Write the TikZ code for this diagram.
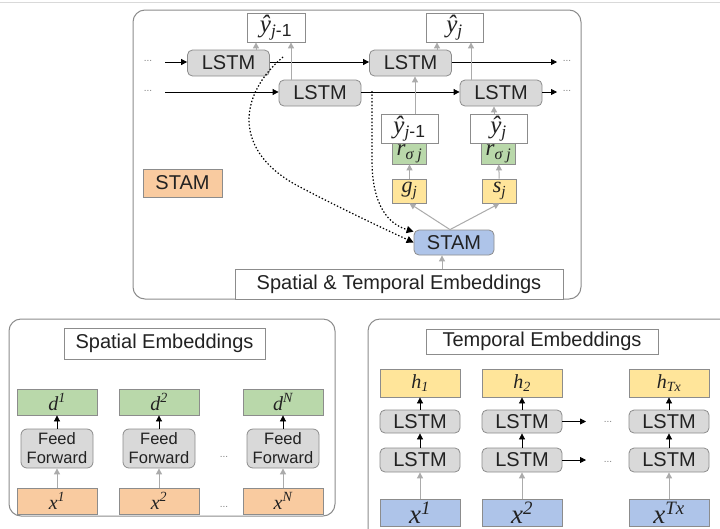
\documentclass[tikz,border=0pt]{standalone}
\usepackage{fontspec}
\setmainfont{Liberation Sans}
\newfontfamily\hand{Liberation Serif}
\newcommand\hv[1]{{\hand\itshape #1}}
\usetikzlibrary{arrows.meta}

\definecolor{lstmgray}{HTML}{D9D9D9}
\definecolor{lineg}{HTML}{8C8C8C}
\definecolor{arrg}{HTML}{ABABAB}
\definecolor{greenf}{HTML}{B9D8AA}
\definecolor{yellowf}{HTML}{FFE59A}
\definecolor{orangef}{HTML}{F9CBA0}
\definecolor{bluef}{HTML}{AEC4E9}
\definecolor{txt}{HTML}{222222}

\begin{document}
\begin{tikzpicture}[x=1pt,y=-1pt,
  base/.style={draw=lineg,line width=0.8pt,inner sep=0pt,text=txt,
    font=\fontsize{20}{22}\selectfont},
  lstm/.style={base,rounded corners=5pt,fill=lstmgray,minimum width=82pt,minimum height=26pt},
  outbox/.style={base,fill=white,minimum width=57pt,minimum height=29pt,font=\fontsize{25}{26}\selectfont},
  rbox/.style={base,fill=greenf,minimum width=34pt,minimum height=21pt,font=\fontsize{23}{24}\selectfont},
  gsbox/.style={base,fill=yellowf,minimum width=34pt,minimum height=24pt,font=\fontsize{22}{23}\selectfont},
  stambox/.style={base,fill=bluef,rounded corners=5pt,minimum width=80pt,minimum height=25pt},
  titlebox/.style={base,fill=white},
  dbox/.style={base,fill=greenf,minimum width=80pt,minimum height=26pt},
  inbox/.style={base,fill=orangef,minimum width=80pt,minimum height=26pt},
  hbox/.style={base,fill=yellowf,minimum width=80pt,minimum height=28pt},
  xbox/.style={base,fill=bluef,minimum width=80pt,minimum height=27pt,font=\fontsize{27}{28}\selectfont},
  ffbox/.style={base,rounded corners=6pt,fill=lstmgray,minimum width=72pt,minimum height=39pt,
    align=center,font=\fontsize{16.5}{19}\selectfont},
  panel/.style={draw=lineg,line width=1pt,rounded corners=12pt},
  dots/.style={inner sep=0pt,text=gray,font=\fontsize{10}{10}\selectfont},
  blk/.style={-{Triangle[length=6pt,width=6pt]},line width=0.8pt,draw=black},
  gar/.style={-{Triangle[length=6pt,width=6pt]},line width=1pt,draw=arrg},
  dott/.style={-{Triangle[length=7pt,width=7pt]},line width=1.2pt,dash pattern=on 1.4pt off 2pt}]
  \useasboundingbox (0,0) rectangle (720,528);
  \fill[white] (0,0) rectangle (720,528);
  \draw[gray!30,line width=0.8pt] (0,2.5) -- (720,2.5);

  %%%%% TOP PANEL %%%%%
  \draw[panel] (133,10) rectangle (581,299);

  \node[outbox,minimum width=58pt] (yt1) at (276,27.5) {\hv{ŷ}\textsubscript{\hv{j}-1}};
  \node[outbox] (yt2) at (454.5,27.5) {\hv{ŷ}\textsubscript{\hv{j}}};

  \node[lstm] (L11) at (228.5,63) {LSTM};
  \node[lstm] (L12) at (410.5,63) {LSTM};
  \node[lstm] (L21) at (320,93) {LSTM};
  \node[lstm] (L22) at (501,93) {LSTM};

  \node[dots] (dl1) at (148,61) {...};
  \node[dots] (dl2) at (148,91) {...};
  \node[dots] (dr1) at (567,61) {...};
  \node[dots] (dr2) at (567,91) {...};
  \coordinate (in1) at (165,62);
  \coordinate (in2) at (165,92);
  \coordinate (out1) at (557,62);
  \coordinate (out2) at (557,92);

  \draw[blk] (in1) -- (L11.west |- in1);
  \draw[blk] (L11.east |- in1) -- (L12.west |- in1);
  \draw[blk] (L12.east |- in1) -- (out1);
  \draw[blk] (in2) -- (L21.west |- in2);
  \draw[blk] (L21.east |- in2) -- (L22.west |- in2);
  \draw[blk] (L22.east |- in2) -- (out2);

  \draw[gar] ([xshift=27.5pt]L11.north) -- ([xshift=27.5pt]L11.north |- yt1.south);
  \draw[gar] ([xshift=-29pt]L21.north) -- ([xshift=-29pt]L21.north |- yt1.south);
  \draw[gar] ([xshift=26.5pt]L12.north) -- ([xshift=26.5pt]L12.north |- yt2.south);
  \draw[gar] ([xshift=-30pt]L22.north) -- ([xshift=-30pt]L22.north |- yt2.south);

  \node[outbox] (yl1) at (409.5,129) {\hv{ŷ}\textsubscript{\hv{j}-1}};
  \node[outbox] (yl2) at (498.5,129) {\hv{ŷ}\textsubscript{\hv{j}}};
  \node[rbox] (r1) at (409.5,153.5) {\hv{r}\textsubscript{\hv{σ j}}};
  \node[rbox] (r2) at (498.5,153.5) {\hv{r}\textsubscript{\hv{σ j}}};
  \node[gsbox] (g) at (409.5,191) {\hv{g}\textsubscript{\hv{j}}};
  \node[gsbox] (s) at (499.5,191) {\hv{s}\textsubscript{\hv{j}}};

  \draw[gar] ([xshift=5.5pt]yl1.north) -- ([xshift=5.5pt]yl1.north |- L12.south);
  \draw[gar] ([xshift=-4.5pt]yl2.north) -- ([xshift=-4.5pt]yl2.north |- L22.south);
  \draw[gar] (g) -- (r1);
  \draw[gar] (s) -- (r2);

  \node[stambox] (stam) at (454,242.5) {STAM};
  \node[titlebox,minimum width=328pt,minimum height=30pt] (ste) at (399,284)
    {Spatial \& Temporal Embeddings};
  \node[base,fill=orangef,minimum width=79pt,minimum height=28pt] (legend) at (182.5,183) {STAM};

  \draw[gar] ([xshift=-4pt]stam.north) -- (g.south);
  \draw[gar] ([xshift=-4pt]stam.north) -- (s.south);
  \draw[gar] ([xshift=-12pt]stam.south |- ste.north) -- ([xshift=-12pt]stam.south);

  \coordinate (dA) at (283,57);
  \coordinate (dB) at (372,91);
  \draw[dott] (dA) .. controls (238,95) and (232,152) .. (300,187)
    .. controls (338,207) and (378,226) .. (stam.west);
  \draw[dott] (dB) -- (372,160) .. controls (372,205) and (388,224) .. ([yshift=-2pt]stam.north west);

  %%%%% SPATIAL EMBEDDINGS %%%%%
  \draw[panel] (9,319) rectangle (335,516);
  \node[titlebox,minimum width=201pt,minimum height=31pt] (setitle) at (164.5,343.5) {Spatial Embeddings};

  \foreach \n/\cx/\supx in {1/57/1,2/159/2,3/283/N}{
    \node[dbox] (d\n) at (\cx,402) {\hv{d}\textsuperscript{\hv{\supx}}};
    \node[ffbox] (ff\n) at (\cx,448.5) {Feed\\Forward};
    \node[inbox] (x\n) at (\cx,501) {\hv{x}\textsuperscript{\hv{\supx}}};
    \draw[blk] (ff\n) -- (d\n);
    \draw[gar] (x\n) -- (ff\n);
  }
  \node[dots] (sd1) at (224,457) {...};
  \node[dots] (sd2) at (224,507) {...};

  %%%%% TEMPORAL EMBEDDINGS %%%%%
  \begin{scope}
    \clip (0,0) rectangle (720,528);
    \draw[panel] (368,319) rectangle (760,570);
  \end{scope}
  \node[titlebox,minimum width=232pt,minimum height=25pt] (tetitle) at (542,341.5) {Temporal Embeddings};

  \foreach \n/\cx/\subx/\supx in {1/420/1/1,2/522/2/2,3/669/{Tx}/{Tx}}{
    \node[hbox] (h\n) at (\cx,383) {\hv{h}\textsubscript{\hv{\subx}}};
    \node[lstm,minimum width=80pt,minimum height=23pt] (tu\n) at (\cx,421.5) {LSTM};
    \node[lstm,minimum width=80pt,minimum height=24pt] (tl\n) at (\cx,460) {LSTM};
    \node[xbox] (X\n) at (\cx,512.5) {\hv{x}\textsuperscript{\hv{\supx}}};
    \draw[blk] (tu\n) -- (h\n);
    \draw[blk] (tl\n) -- (tu\n);
    \draw[gar] (X\n) -- (tl\n);
  }
  \coordinate (tq1) at (586,421.5);
  \coordinate (tq2) at (586,460);
  \draw[blk] (tu2) -- (tq1);
  \draw[blk] (tl2) -- (tq2);
  \node[dots] (td1) at (608,422) {...};
  \node[dots] (td2) at (608,462) {...};
\end{tikzpicture}
\end{document}
